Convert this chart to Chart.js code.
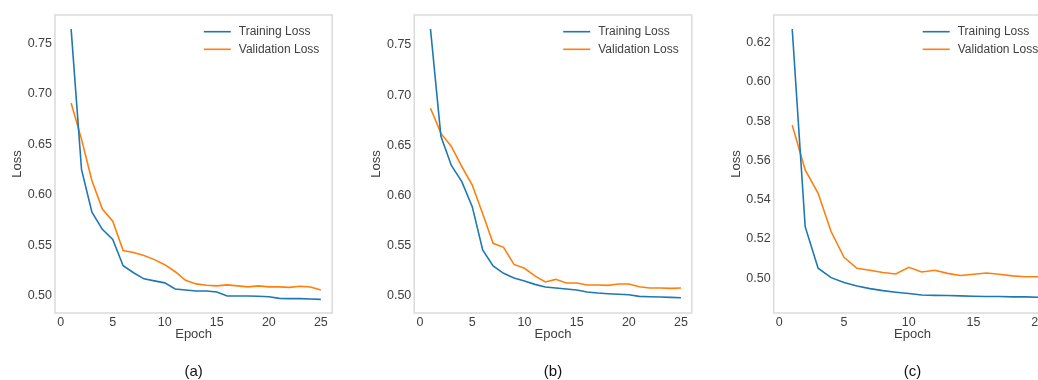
<!DOCTYPE html>
<html>
<head>
<meta charset="utf-8">
<script src="https://cdn.jsdelivr.net/npm/chart.js@4.4.1/dist/chart.umd.min.js"></script>
<style>
  html, body { margin: 0; padding: 0; background: #fff; width: 1038px; height: 380px; overflow: hidden; position: relative; }
  canvas { position: absolute; top: 0; }
</style>
</head>
<body>
<canvas id="chartA" width="346" height="380" style="left:0px"></canvas>
<canvas id="chartB" width="350" height="380" style="left:346px"></canvas>
<canvas id="chartC" width="370" height="380" style="left:692px"></canvas>
<script>
// epochs
var epochs = [1, 2, 3, 4, 5, 6, 7, 8, 9, 10, 11, 12, 13, 14, 15, 16, 17, 18, 19, 20, 21, 22, 23, 24, 25];
var epochsC = [1, 2, 3, 4, 5, 6, 7, 8, 9, 10, 11, 12, 13, 14, 15, 16, 17, 18, 19, 20];

// (a)
var trainA = [0.764, 0.625, 0.583, 0.566, 0.556, 0.530, 0.523, 0.517, 0.515, 0.513, 0.507, 0.506, 0.505, 0.505, 0.504,
              0.500, 0.500, 0.500, 0.4997, 0.4993, 0.4977, 0.4974, 0.4974, 0.497, 0.4967];
var valA = [0.691, 0.655, 0.614, 0.586, 0.574, 0.545, 0.543, 0.540, 0.536, 0.531, 0.524, 0.5155, 0.512, 0.5106, 0.510,
            0.511, 0.510, 0.509, 0.510, 0.509, 0.509, 0.5086, 0.5096, 0.509, 0.506];

// (b)
var trainB = [0.766, 0.659, 0.630, 0.614, 0.589, 0.546, 0.530, 0.5226, 0.518, 0.515, 0.5116, 0.509, 0.508, 0.507, 0.506,
              0.504, 0.503, 0.5023, 0.5017, 0.5013, 0.4997, 0.4993, 0.499, 0.4987, 0.4983];
var valB = [0.687, 0.662, 0.649, 0.629, 0.6105, 0.582, 0.5525, 0.5485, 0.5315, 0.5276, 0.520, 0.514, 0.5166, 0.513, 0.513,
            0.511, 0.511, 0.5106, 0.512, 0.512, 0.5093, 0.508, 0.508, 0.5076, 0.508];

// (c)
var trainC = [0.627, 0.5263, 0.5051, 0.5003, 0.4978, 0.4961, 0.4947, 0.4937, 0.4929, 0.4922, 0.4915, 0.4913, 0.4912,
              0.491, 0.4908, 0.4907, 0.4907, 0.4905, 0.4905, 0.4903];
var valC = [0.578, 0.5552, 0.5433, 0.5238, 0.5107, 0.5051, 0.5041, 0.5029, 0.5022, 0.5056, 0.5032, 0.5041, 0.5025,
            0.5014, 0.502, 0.5027, 0.502, 0.5012, 0.5008, 0.5008];

// tick labels
var xTicks = [0, 5, 10, 15, 20, 25];
var yTicksAB = [0.50, 0.55, 0.60, 0.65, 0.70, 0.75];
var yTicksC = [0.50, 0.52, 0.54, 0.56, 0.58, 0.60, 0.62];

var seriesNames = ['Training Loss', 'Validation Loss'];
var captions = ['(a)', '(b)', '(c)'];

var FONT = '"Liberation Sans", Arial, sans-serif';
var TEXT = '#404040';
Chart.defaults.font.family = FONT;
Chart.defaults.font.size = 12.5;
Chart.defaults.color = TEXT;

// frame, legend in the top right corner and the caption under the panel
var panelDecor = {
  id: 'panelDecor',
  afterDatasetsDraw: function(chart, args, opts) {
    var ctx = chart.ctx, a = chart.chartArea;
    ctx.save();
    ctx.strokeStyle = '#dadada';
    ctx.lineWidth = 1.5;
    ctx.strokeRect(a.left, a.top, a.right - a.left, a.bottom - a.top);

    ctx.font = '12px ' + FONT;
    var sets = chart.data.datasets;
    var w = Math.max.apply(null, sets.map(function(d) { return ctx.measureText(d.label).width; }));
    var tx = a.right - 13 - w;
    ctx.textBaseline = 'middle';
    ctx.textAlign = 'left';
    sets.forEach(function(d, i) {
      var y = a.top + 16.7 + i * 17.6;
      ctx.strokeStyle = d.borderColor;
      ctx.lineWidth = 1.6;
      ctx.beginPath();
      ctx.moveTo(tx - 35, y);
      ctx.lineTo(tx - 8, y);
      ctx.stroke();
      ctx.fillStyle = TEXT;
      ctx.fillText(d.label, tx, y);
    });

    ctx.font = '15px ' + FONT;
    ctx.textAlign = 'center';
    ctx.fillStyle = '#111';
    ctx.fillText(opts.caption, (a.left + a.right) / 2, 372);
    ctx.restore();
  }
};

function makeChart(id, xs, train, val, yTicks, xMin, xMax, yMin, yMax, padLeft, padRight, caption) {
  function pts(ys) {
    return xs.map(function(x, i) { return {x: x, y: ys[i]}; });
  }
  return new Chart(id, {
    type: 'line',
    data: {
      datasets: [
        {label: seriesNames[0], data: pts(train), borderColor: '#1f77b4', borderWidth: 1.6, pointRadius: 0, tension: 0},
        {label: seriesNames[1], data: pts(val), borderColor: '#ff7f0e', borderWidth: 1.6, pointRadius: 0, tension: 0}
      ]
    },
    options: {
      responsive: false,
      animation: false,
      layout: {padding: {left: padLeft, right: padRight, top: 15, bottom: 37.5}},
      plugins: {
        legend: {display: false},
        tooltip: {enabled: false},
        panelDecor: {caption: caption}
      },
      scales: {
        x: {
          type: 'linear',
          min: xMin,
          max: xMax,
          grid: {display: false, drawTicks: false},
          border: {display: false},
          afterBuildTicks: function(s) {
            s.ticks = xTicks.filter(function(v) { return v <= xMax; }).map(function(v) { return {value: v}; });
          },
          ticks: {padding: 2, maxRotation: 0, autoSkip: false, callback: function(v) { return v; }},
          title: {display: true, text: 'Epoch', padding: 0, font: {size: 13}},
          afterFit: function(s) { s.height = 29.5; }
        },
        y: {
          min: yMin,
          max: yMax,
          grid: {display: false, drawTicks: false},
          border: {display: false},
          afterBuildTicks: function(s) {
            s.ticks = yTicks.map(function(v) { return {value: v}; });
          },
          ticks: {padding: 3, callback: function(v) { return v.toFixed(2); }},
          title: {display: true, text: 'Loss', padding: 0, font: {size: 13}},
          afterFit: function(s) { s.width = 45.5; }
        }
      }
    },
    plugins: [panelDecor]
  });
}

makeChart('chartA', epochs, trainA, valA, yTicksAB, -0.55, 26.1, 0.4832, 0.778, 9.5, 13.7, captions[0]);
makeChart('chartB', epochs, trainB, valB, yTicksAB, -0.55, 26.02, 0.4831, 0.7799, 22.8, 4.3, captions[1]);
makeChart('chartC', epochsC, trainC, valC, yTicksC, -0.43, 21.0, 0.4823, 0.6341, 36.2, 10.8, captions[2]);
</script>
</body>
</html>
